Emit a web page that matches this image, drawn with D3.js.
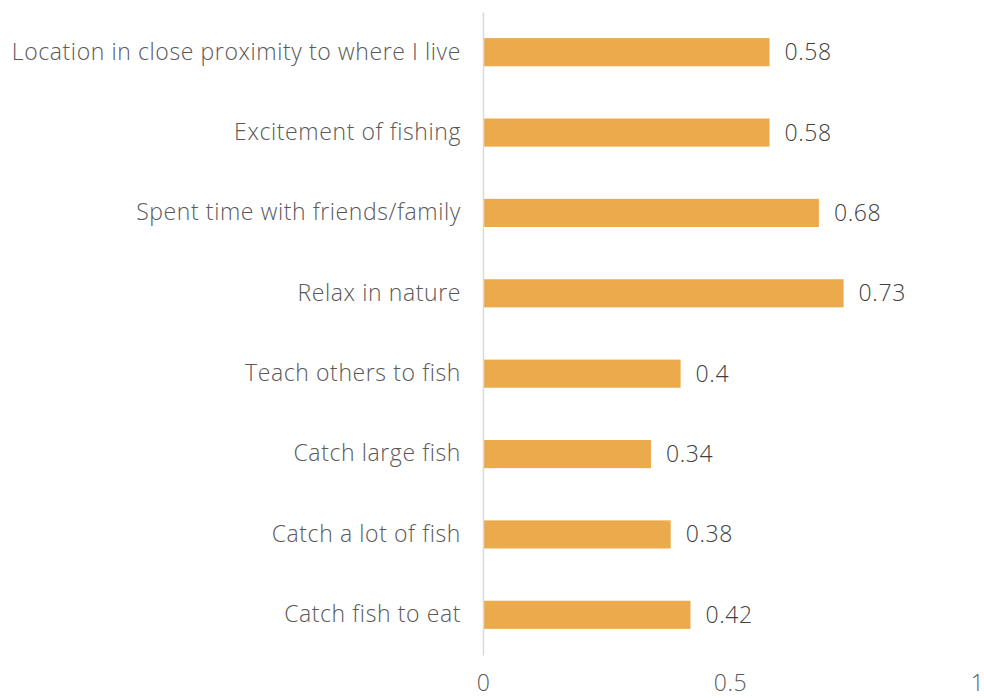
<!DOCTYPE html>
<html>
<head>
<meta charset="utf-8">
<script src="https://cdn.jsdelivr.net/npm/d3@7"></script>
<style>
  html, body { margin: 0; padding: 0; background: #fff; }
  svg { display: block; }
  text { font-family: "Open Sans", sans-serif; }
</style>
</head>
<body>
<svg id="chart" width="984" height="698"></svg>
<script>
// Reasons for fishing and their mean scores
const categories = [
  "Location in close proximity to where I live",
  "Excitement of fishing",
  "Spent time with friends/family",
  "Relax in nature",
  "Teach others to fish",
  "Catch large fish",
  "Catch a lot of fish",
  "Catch fish to eat"
];
const values = [0.58, 0.58, 0.68, 0.73, 0.4, 0.34, 0.38, 0.42];
const tickValues = [0, 0.5, 1];
const tickLabels = ["0", "0.5", "1"];

const FONT = "'Open Sans', sans-serif";
const SIZE = 23;
const SPACING = "0.6px";
const svg = d3.select("#chart");
const margin = { top: 12, right: 7, bottom: 43, left: 483 };
const width = 984 - margin.left - margin.right;
const height = 698 - margin.top - margin.bottom;

const g = svg.append("g").attr("transform", `translate(${margin.left},${margin.top})`);

const x = d3.scaleLinear().domain([0, 1]).range([0, 494]);
const y = d3.scaleBand().domain(categories).range([0, height]).paddingInner(0.65).paddingOuter(0.325);

// bars
g.selectAll("rect.bar")
  .data(categories)
  .join("rect")
  .attr("class", "bar")
  .attr("x", 0)
  .attr("y", d => y(d))
  .attr("width", (d, i) => x(values[i]))
  .attr("height", y.bandwidth())
  .attr("fill", "#ebaa4c");

// value labels
g.selectAll("text.val")
  .data(categories)
  .join("text")
  .attr("class", "val")
  .attr("x", (d, i) => x(values[i]) + 15)
  .attr("y", d => y(d) + y.bandwidth() / 2)
  .attr("dy", "0.35em")
  .attr("font-size", SIZE)
  .attr("font-weight", 300)
  .attr("fill", "#404040")
  .style("font-family", FONT)
  .style("letter-spacing", SPACING)
  .text((d, i) => values[i]);

// category axis
const yAxis = g.append("g").call(d3.axisLeft(y).tickSize(0).tickPadding(22));
yAxis.select(".domain").attr("stroke", "#d9d9d9").attr("stroke-width", 1.5);
yAxis.selectAll("text")
  .attr("font-size", SIZE)
  .attr("font-weight", 300)
  .attr("fill", "#595959")
  .style("font-family", FONT)
  .style("letter-spacing", SPACING);

// value axis labels only
const xAxis = g.append("g")
  .attr("transform", `translate(0,${height})`)
  .call(d3.axisBottom(x).tickValues(tickValues).tickFormat((d, i) => tickLabels[i]).tickSize(0).tickPadding(20));
xAxis.select(".domain").remove();
xAxis.selectAll("text")
  .attr("font-size", SIZE)
  .attr("font-weight", 300)
  .attr("fill", "#595959")
  .style("font-family", FONT)
  .style("letter-spacing", SPACING);
</script>
</body>
</html>
